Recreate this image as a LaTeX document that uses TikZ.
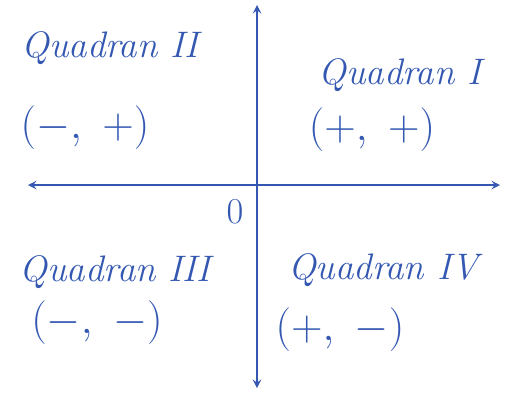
\documentclass[tikz,border=0pt]{standalone}
\usepackage{tikz}
\definecolor{pen}{RGB}{52,88,178}
\begin{document}
\begin{tikzpicture}[x=0.02cm,y=-0.02cm,
    pen/.style={color=pen, font=\fontsize{21}{25}\selectfont\itshape},
    signs/.style={pen, font=\fontsize{25}{30}\selectfont},
    axis/.style={<->, pen, line width=1.1pt, >=stealth}]
        \useasboundingbox (0,0) rectangle (513,393);

        \coordinate (xl) at (28,185);
        \coordinate (xr) at (500,185);
        \coordinate (yt) at (257,5);
        \coordinate (yb) at (257,388);
        \draw[axis] (xl) -- (xr);
        \draw[axis] (yt) -- (yb);

        \node[pen] (o) at (235,212) {$0$};

        \node[pen] (q2) at (110,48) {Quadran II};
        \node[signs] (s2) at (85,128) {$(-,\ +)$};
        \node[pen] (q1) at (400,75) {Quadran I};
        \node[signs] (s1) at (372,130) {$(+,\ +)$};
        \node[pen] (q3) at (115,272) {Quadran III};
        \node[signs] (s3) at (97,323) {$(-,\ -)$};
        \node[pen] (q4) at (383,270) {Quadran IV};
        \node[signs] (s4) at (340,330) {$(+,\ -)$};
    \end{tikzpicture}
\end{document}
